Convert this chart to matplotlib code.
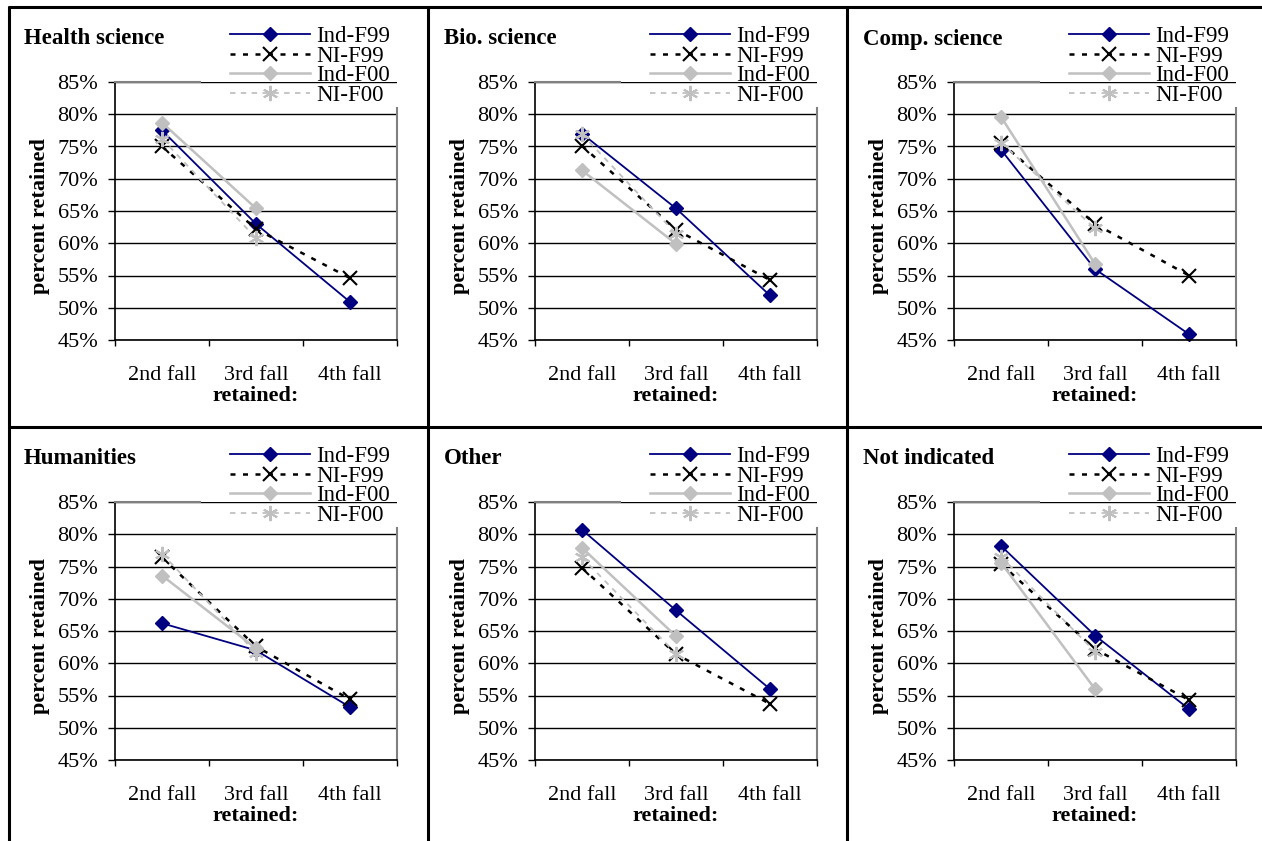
import numpy as np
import matplotlib
matplotlib.use("Agg")
import matplotlib.pyplot as plt
from matplotlib.lines import Line2D
from matplotlib.ticker import PercentFormatter, FixedLocator, NullFormatter

plt.rcParams['font.family'] = ['Liberation Serif', 'DejaVu Serif']

W, H = 1262, 841

categories = ["2nd fall", "3rd fall", "4th fall"]
panel_titles = ["Health science", "Bio. science", "Comp. science",
                "Humanities", "Other", "Not indicated"]
series_names = ["Ind-F99", "NI-F99", "Ind-F00", "NI-F00"]

nan = np.nan
# percent retained, one row per panel
ind_f99 = [[77.5, 63.0, 50.9], [77.0, 65.4, 51.9], [74.5, 56.0, 45.9],
           [66.2, 62.0, 53.2], [80.7, 68.2, 56.0], [78.2, 64.3, 52.9]]
ni_f99 = [[75.0, 62.2, 54.6], [75.1, 62.1, 54.3], [75.6, 63.0, 55.0],
          [76.4, 62.6, 54.4], [74.8, 61.4, 53.7], [75.4, 62.2, 54.3]]
ind_f00 = [[78.7, 65.4, nan], [71.3, 59.9, nan], [79.6, 56.8, nan],
           [73.6, 62.3, nan], [77.9, 64.2, nan], [75.6, 56.0, nan]]
ni_f00 = [[76.2, 60.8, nan], [76.9, 61.5, nan], [75.6, 62.3, nan],
          [77.0, 61.6, nan], [76.4, 61.5, nan], [76.5, 61.8, nan]]

styles = [
    dict(color="#000080", lw=1.3, ls="-", marker="D", ms=7, mfc="#000080", mec="#000080"),
    dict(color="black", lw=1.8, ls=(0, (2, 3)), marker="x", ms=10, mew=1.5),
    dict(color="#c0c0c0", lw=1.8, ls="-", marker="D", ms=7, mfc="#c0c0c0", mec="#c0c0c0"),
    dict(color="#c0c0c0", lw=1.3, ls=(0, (3, 3)), marker=(6, 2, 0), ms=11, mew=1.5),
]


def fx(x):
    return x / W


def fy(y):
    return 1 - y / H


fig = plt.figure(figsize=(W / 100, H / 100), dpi=100)

panel_x = [8, 428, 847]
panel_y = [7, 427]

# panel frame lines
frame = dict(color="black", lw=2.2, solid_capstyle="butt")
fig.add_artist(Line2D([fx(8), 1], [fy(7), fy(7)], **frame))
fig.add_artist(Line2D([fx(8), 1], [fy(427), fy(427)], **frame))
for x in [9, 428, 847]:
    fig.add_artist(Line2D([fx(x), fx(x)], [fy(6), 0], **frame))

xpos = np.arange(len(categories)) + 0.5

for i, title in enumerate(panel_titles):
    x0 = panel_x[i % 3]
    y0 = panel_y[i // 3]
    left, top = x0 + 107, y0 + 75
    aw, ah = 282, 258
    ax = fig.add_axes([fx(left), fy(top + ah), aw / W, ah / H])

    data = [ind_f99[i], ni_f99[i], ind_f00[i], ni_f00[i]]
    handles = []
    for name, vals, st in zip(series_names, data, styles):
        h, = ax.plot(xpos, vals, label=name, clip_on=False, **st)
        handles.append(h)

    ax.set_xlim(0, 3)
    ax.set_ylim(45, 85)
    ax.set_yticks(np.arange(45, 86, 5))
    ax.yaxis.set_major_formatter(PercentFormatter(xmax=100, decimals=0))
    ax.grid(axis="y", color="black", lw=1.0)
    ax.set_axisbelow(True)

    ax.xaxis.set_major_locator(FixedLocator([0, 1, 2, 3]))
    ax.xaxis.set_major_formatter(NullFormatter())
    ax.xaxis.set_minor_locator(FixedLocator(xpos))
    ax.set_xticklabels(categories, minor=True)
    ax.tick_params(axis="x", which="major", length=4.5, width=1.0, direction="out")
    ax.tick_params(axis="x", which="minor", length=0, pad=19, labelsize=16)
    ax.tick_params(axis="y", length=5, width=1.0, pad=7, labelsize=16)

    for s in ["left", "bottom"]:
        ax.spines[s].set_color("black")
        ax.spines[s].set_linewidth(1.2)
    for s in ["top", "right"]:
        ax.spines[s].set_color("#808080")
        ax.spines[s].set_linewidth(1.5)
    ax.spines["top"].set_bounds(0, 0.9)
    ax.spines["right"].set_bounds(45, 81)

    ax.text(-0.266, 0.48, "percent retained", transform=ax.transAxes, rotation=90,
            ha="center", va="center", fontsize=16, fontweight="bold")
    ax.text(0.5, -0.218, "retained:", transform=ax.transAxes,
            ha="center", va="center", fontsize=16, fontweight="bold")

    fig.text(fx(x0 + 16), fy(y0 + 32), title, ha="left", va="center",
             fontsize=16.5, fontweight="bold")

    ax.legend(handles=handles, loc="upper left",
              bbox_to_anchor=(fx(x0 + 222), fy(y0 + 19)),
              bbox_transform=fig.transFigure, frameon=False, fontsize=16.5,
              handlelength=3.5, handletextpad=0.25, labelspacing=-0.06,
              borderpad=0, borderaxespad=0)

fig.savefig("out.png", dpi=100)
